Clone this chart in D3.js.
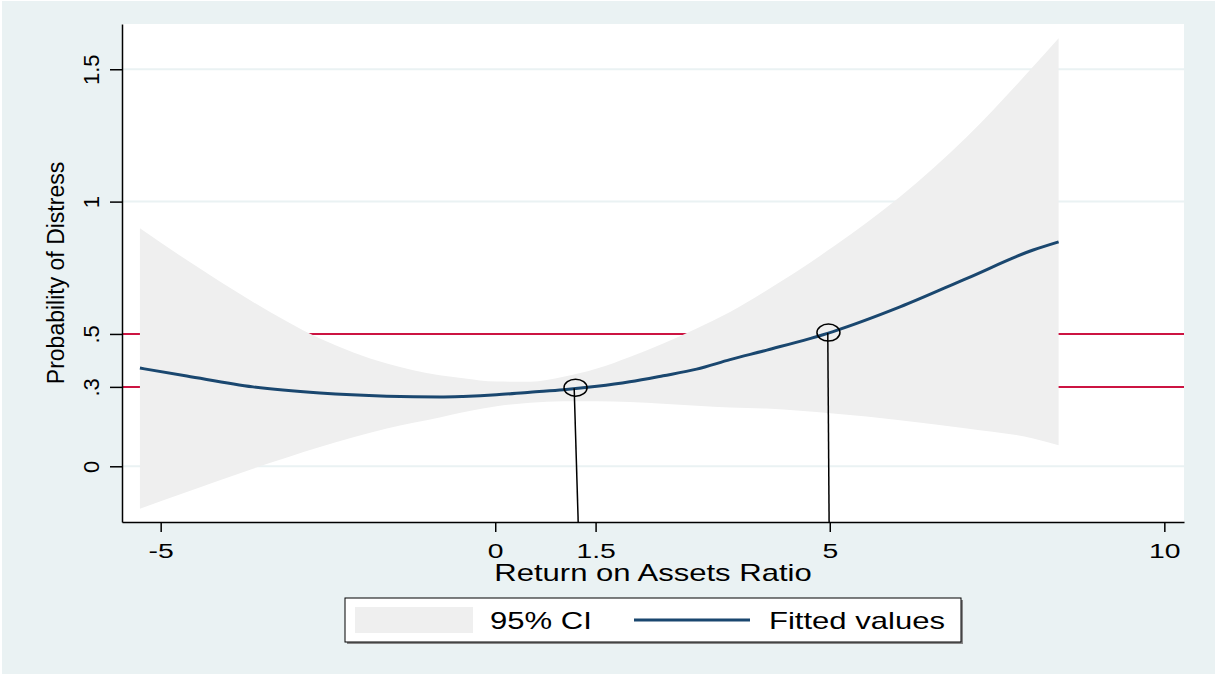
<!DOCTYPE html>
<meta charset="utf-8">
<style>
  body { margin: 0; background: #fff; }
  text { font-family: "Liberation Sans", Arial, sans-serif; fill: #000; }
</style>
<body>
<div id="chart"></div>
<script src="https://d3js.org/d3.v7.min.js"></script>
<script>

// values
var roa      = [-5.31, -4.61, -3.62, -2.62, -1.62, -0.83, -0.48, 0.02, 0.52, 1.02, 1.52, 2.01, 2.51, 3.01, 3.51, 4.06, 5.05, 6.05, 7.05, 8.04, 8.42]
var fitted   = [0.371, 0.341, 0.300, 0.277, 0.265, 0.262, 0.264, 0.270, 0.280, 0.289, 0.302, 0.319, 0.342, 0.367, 0.403, 0.439, 0.509, 0.602, 0.710, 0.817, 0.848]
var ciUpper  = [0.899, 0.779, 0.621, 0.483, 0.388, 0.344, 0.333, 0.320, 0.319, 0.338, 0.369, 0.413, 0.464, 0.521, 0.583, 0.665, 0.829, 1.018, 1.245, 1.510, 1.617]
var ciLower  = [-0.160, -0.097, -0.009, 0.073, 0.143, 0.184, 0.204, 0.227, 0.240, 0.246, 0.246, 0.243, 0.236, 0.229, 0.222, 0.218, 0.199, 0.174, 0.143, 0.105, 0.079]

var cutoffs  = [0.3, 0.5]
var markX    = [1.20, 4.98]
var markY    = [0.297, 0.505]
var spikeX   = [1.18, 4.97]
var spikeY   = [0.295, 0.504]
var spikeX0  = [1.24, 4.99]

var xTicks = [-5, 0, 1.5, 5, 10]
var yTicks = [0, 0.3, 0.5, 1, 1.5]
var yTickLabels = ["0", ".3", ".5", "1", "1.5"]
var gridAt = [0, 1, 1.5]

var width = 1215,
    height = 674,
    pLeft = 122, pRight = 1184, pTop = 24, pBottom = 522,
    stretch = 1.35   // horizontal text in the original is drawn wide

var svg = d3.select("#chart")
  .append("svg")
    .attr("width", width)
    .attr("height", height)

svg.append("rect")
  .attr("x", 2).attr("y", 1)
  .attr("width", width - 2).attr("height", height - 1)
  .attr("fill", "#eaf2f3")

svg.append("rect")
  .attr("x", pLeft).attr("y", pTop)
  .attr("width", pRight - pLeft).attr("height", pBottom - pTop)
  .attr("fill", "#fff")

var x = d3.scaleLinear().domain([-5.578, 10.294]).range([pLeft, pRight])
var y = d3.scaleLinear().domain([-0.2105, 1.671]).range([pBottom, pTop])

// grid
svg.selectAll(".grid")
  .data(gridAt)
  .enter().append("line")
    .attr("x1", pLeft).attr("x2", pRight)
    .attr("y1", function(d){ return y(d) }).attr("y2", function(d){ return y(d) })
    .attr("stroke", "#eaf2f3")
    .attr("stroke-width", 2)

// cutoff lines
svg.selectAll(".cut")
  .data(cutoffs)
  .enter().append("line")
    .attr("x1", pLeft).attr("x2", pRight)
    .attr("y1", function(d){ return y(d) }).attr("y2", function(d){ return y(d) })
    .attr("stroke", "#cc1442")
    .attr("stroke-width", 2)

var rows = roa.map(function(v, i){ return {x: v, f: fitted[i], hi: ciUpper[i], lo: ciLower[i]} })

svg.append("path")
  .datum(rows)
  .attr("fill", "#efefef")
  .attr("d", d3.area()
    .curve(d3.curveMonotoneX)
    .x(function(d){ return x(d.x) })
    .y0(function(d){ return y(d.lo) })
    .y1(function(d){ return y(d.hi) }))

svg.append("path")
  .datum(rows)
  .attr("fill", "none")
  .attr("stroke", "#1a476f")
  .attr("stroke-width", 3)
  .attr("d", d3.line()
    .curve(d3.curveMonotoneX)
    .x(function(d){ return x(d.x) })
    .y(function(d){ return y(d.f) }))

// spikes down to the axis
svg.selectAll(".spike")
  .data(spikeX)
  .enter().append("line")
    .attr("x1", function(d){ return x(d) })
    .attr("y1", function(d, i){ return y(spikeY[i]) })
    .attr("x2", function(d, i){ return x(spikeX0[i]) })
    .attr("y2", y(-0.2105))
    .attr("stroke", "#000")
    .attr("stroke-width", 1.5)

svg.selectAll(".mark")
  .data(markX)
  .enter().append("ellipse")
    .attr("cx", function(d){ return x(d) })
    .attr("cy", function(d, i){ return y(markY[i]) })
    .attr("rx", 11.5).attr("ry", 8.5)
    .attr("fill", "none")
    .attr("stroke", "#000")
    .attr("stroke-width", 1.5)

// axes
var gx = svg.append("g")
  .attr("transform", "translate(0," + pBottom + ")")
  .call(d3.axisBottom(x).tickValues(xTicks).tickSize(10).tickSizeOuter(0).tickFormat(function(d){ return d }))
gx.select(".domain").attr("stroke-width", 1.5)
gx.selectAll(".tick line").attr("stroke-width", 1.5)
gx.selectAll(".tick text")
  .attr("y", 36).attr("dy", null)
  .attr("transform", "scale(" + stretch + ",1)")
  .style("font-size", "21px")
  .attr("fill", "#000")

var gy = svg.append("g")
  .attr("transform", "translate(" + pLeft + ",0)")
  .call(d3.axisLeft(y).tickValues(yTicks).tickSize(12).tickSizeOuter(0).tickFormat(function(d, i){ return yTickLabels[i] }))
gy.select(".domain").attr("stroke-width", 1.5)
gy.selectAll(".tick line").attr("stroke-width", 1.5)
gy.selectAll(".tick text")
  .attr("x", 0).attr("y", -23).attr("dy", null)
  .attr("transform", "rotate(-90)")
  .attr("text-anchor", "middle")
  .style("font-size", "22px")
  .attr("fill", "#000")

svg.append("text")
  .attr("transform", "translate(653,581) scale(" + stretch + ",1)")
  .attr("text-anchor", "middle")
  .style("font-size", "23px")
  .text("Return on Assets Ratio")

svg.append("text")
  .attr("transform", "translate(64,273) rotate(-90)")
  .attr("text-anchor", "middle")
  .style("font-size", "23px")
  .text("Probability of Distress")

// legend
var lg = svg.append("g")
lg.append("rect")
  .attr("x", 347).attr("y", 600).attr("width", 616).attr("height", 44)
  .attr("fill", "#888")
lg.append("rect")
  .attr("x", 345).attr("y", 598).attr("width", 616).attr("height", 44)
  .attr("fill", "#fff").attr("stroke", "#000").attr("stroke-width", 1)
lg.append("rect")
  .attr("x", 355).attr("y", 607).attr("width", 118).attr("height", 26)
  .attr("fill", "#efefef")
lg.append("line")
  .attr("x1", 634).attr("x2", 750).attr("y1", 620).attr("y2", 620)
  .attr("stroke", "#1a476f").attr("stroke-width", 3)
lg.append("text")
  .attr("transform", "translate(490,629) scale(" + stretch + ",1)")
  .style("font-size", "23px")
  .text("95% CI")
lg.append("text")
  .attr("transform", "translate(769,629) scale(" + stretch + ",1)")
  .style("font-size", "23px")
  .text("Fitted values")

</script>
